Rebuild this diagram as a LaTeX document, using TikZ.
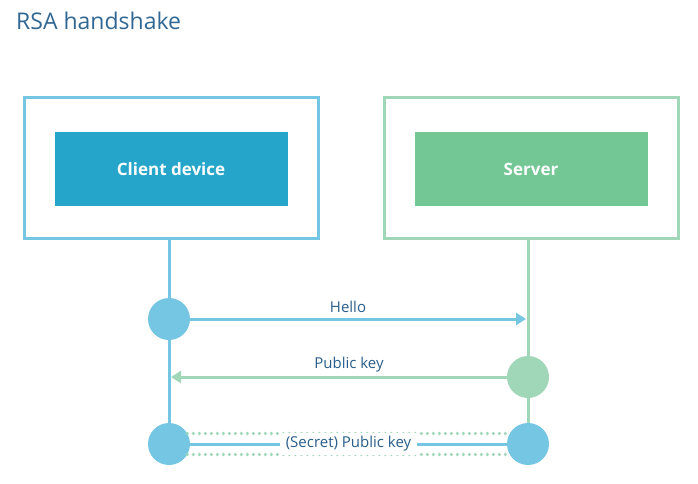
\documentclass[tikz,border=0pt]{standalone}
\usepackage{fontspec}
\setmainfont{Open Sans}
\usepackage{xcolor}
\usetikzlibrary{arrows.meta}
\definecolor{lblue}{HTML}{74C6E3}
\definecolor{dblue}{HTML}{25A5C9}
\definecolor{lgreen}{HTML}{9FD7B8}
\definecolor{dgreen}{HTML}{72C794}
\definecolor{ink}{HTML}{2A5D8A}
\tikzset{
  outer/.style={draw, line width=3pt, minimum width=294pt, minimum height=140pt, inner sep=0pt},
  inner/.style={minimum width=233pt, minimum height=74pt, text=white, font=\fontsize{17}{20}\selectfont\bfseries},
  dot/.style={circle, minimum size=42pt, inner sep=0pt},
  msg/.style={text=ink, font=\fontsize{15}{18}\selectfont},
  dotline/.style={line width=3.5pt, lgreen, line cap=round, dash pattern=on 0pt off 6pt},
}
\begin{document}
\begin{tikzpicture}[x=1pt,y=-1pt]
\useasboundingbox (0,0) rectangle (698,484);
\node[anchor=west, text=ink!90!lblue, font=\fontsize{23}{27}\selectfont, inner sep=0pt] (title) at (16,21) {RSA handshake};
\node[outer, draw=lblue] (client) at (171,168) {};
\node[outer, draw=lgreen] (server) at (531,168) {};
\node[inner, fill=dblue] (clientlbl) at (171,169) {Client device};
\node[inner, fill=dgreen] (serverlbl) at (531,169) {Server};
\node[dot, fill=lblue] (hello) at (169,319) {};
\node[dot, fill=lgreen] (pub) at (528,377) {};
\node[dot, fill=lblue] (secA) at (169,444) {};
\node[dot, fill=lblue] (secB) at (528,444) {};
\coordinate (helloend) at (526,319);
\coordinate (pubend) at (171,377);
\draw[line width=3pt, lblue] (client.south -| hello) -- (hello) -- (secA);
\draw[line width=3pt, lgreen] (server.south -| pub) -- (pub) -- (secB);
\draw[line width=3pt, lblue, -{Triangle[length=10pt,width=12pt]}] (hello) -- (helloend) node[pos=0.47, above=2pt, msg] {Hello};
\draw[line width=3pt, lgreen, -{Triangle[length=10pt,width=12pt]}] (pub) -- (pubend) node[pos=0.47, above=0pt, msg] {Public key};
\draw[dotline] (secA.30) -- (secB.150);
\draw[dotline] (secA.-30) -- (secB.-150);
\draw[line width=3pt, lblue] (secA) -- (secB) node[midway, fill=white, inner xsep=6pt, msg] {(Secret) Public key};
\end{tikzpicture}
\end{document}
